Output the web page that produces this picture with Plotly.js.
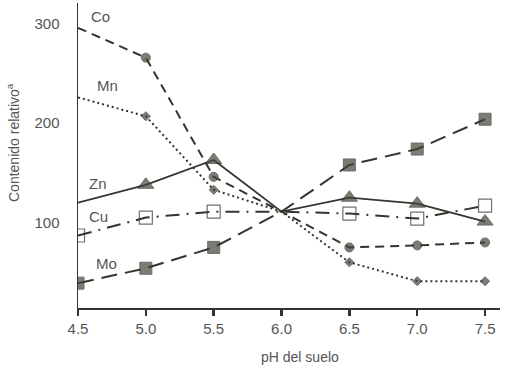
<!DOCTYPE html>
<html><head><meta charset="utf-8">
<script src="https://cdn.plot.ly/plotly-3.0.1.min.js"></script>
<style>body{margin:0;background:#fff}#c{width:516px;height:374px}</style>
</head><body><div id="c"></div>
<script>
const ph = [4.5, 5.0, 5.5, 6.0, 6.5, 7.0, 7.5];
const co = [296, 266, 146, 111, 75, 77, 80];
const mn = [226, 207, 133, 111, 60, 41, 41];
const zn = [120, 138, 163, 111, 125, 119, 101];
const cu = [87, 105, 111, 111, 109, 104, 117];
const mo = [39, 54, 75, 111, 158, 174, 204];
const tickVals = [4.5, 5.0, 5.5, 6.0, 6.5, 7.0, 7.5];
const tickText = ["4.5", "5.0", "5.5", "6.0", "6.5", "7.0", "7.5"];
const yTickVals = [100, 200, 300];
const seriesNames = ["Co", "Mn", "Zn", "Cu", "Mo"];

const lineCol = '#35352f';
const mk = '#46443a';
const mkLine = {color: '#2e2d27', width: 1};
// marker sizes: no marker at the common crossing point (pH 6.0); some series start without a marker
function sizes(s, skipFirst) {
  return ph.map((p, i) => (p === 6.0 || (skipFirst && i === 0)) ? 0 : s);
}
const traces = [
  {x: ph, y: co, name: 'Co', mode: 'lines+markers',
   line: {color: lineCol, width: 2, dash: '9px,6px'},
   marker: {symbol: 'circle', size: sizes(9, true), color: mk, line: mkLine}},
  {x: ph, y: mn, name: 'Mn', mode: 'lines+markers',
   line: {color: lineCol, width: 2, dash: '2px,3px'},
   marker: {symbol: 'diamond', size: sizes(7, true), color: mk, line: mkLine}},
  {x: ph, y: zn, name: 'Zn', mode: 'lines+markers',
   line: {color: lineCol, width: 1.8},
   marker: {symbol: 'triangle-up', size: sizes(14, true), color: mk, line: mkLine}},
  {x: ph, y: cu, name: 'Cu', mode: 'lines+markers',
   line: {color: lineCol, width: 2, dash: '14px,7px,2px,7px'},
   marker: {symbol: 'square-open', size: sizes(13, false), color: '#333', line: {width: 1.2}}},
  {x: ph, y: mo, name: 'Mo', mode: 'lines+markers',
   line: {color: lineCol, width: 2, dash: '16px,8px'},
   marker: {symbol: 'square', size: sizes(12, false), color: mk, line: mkLine}}
];

const labelPos = [[100, 17], [107, 86], [98, 183], [98, 216], [106, 263]];
const annotations = seriesNames.map((s, i) => ({
  text: s, xref: 'paper', yref: 'paper', showarrow: false,
  x: (labelPos[i][0] - 78) / (500 - 78), y: 1 - (labelPos[i][1] - 3) / (308 - 3),
  xanchor: 'center', yanchor: 'middle',
  font: {family: 'Liberation Sans, Arial', size: 15, color: '#555'}
}));
annotations.push({
  text: 'Contenido relativo<sup>a</sup>', xref: 'paper', yref: 'paper', showarrow: false,
  x: (13 - 78) / (500 - 78), y: 1 - (143 - 3) / (308 - 3), textangle: -90,
  xanchor: 'center', yanchor: 'middle',
  font: {family: 'Liberation Sans, Arial', size: 14, color: '#555'}
});
annotations.push({
  text: 'pH del suelo', xref: 'paper', yref: 'paper', showarrow: false,
  x: (300 - 78) / (500 - 78), y: 1 - (357 - 3) / (308 - 3),
  xanchor: 'center', yanchor: 'middle',
  font: {family: 'Liberation Sans, Arial', size: 14, color: '#555'}
});

const layout = {
  width: 516, height: 374,
  margin: {l: 78, r: 16, t: 3, b: 66},
  paper_bgcolor: '#fff', plot_bgcolor: '#fff',
  showlegend: false,
  font: {family: 'Liberation Sans, Arial', size: 15, color: '#555'},
  xaxis: {range: [4.5, 7.61], tickvals: tickVals, ticktext: tickText,
    showgrid: false, zeroline: false, showline: true, linecolor: '#333', linewidth: 1.5,
    ticks: 'outside', ticklen: 6, tickwidth: 2.5, tickcolor: '#333',
    tickfont: {size: 15, color: '#555'}},
  yaxis: {range: [14, 321], tickvals: yTickVals,
    showgrid: false, zeroline: false, showline: true, linecolor: '#333', linewidth: 1.5,
    ticks: '', ticklabelstandoff: 14,
    tickfont: {size: 15, color: '#555'}},
  annotations: annotations
};
Plotly.newPlot('c', traces, layout, {displayModeBar: false, staticPlot: true});
</script></body></html>
